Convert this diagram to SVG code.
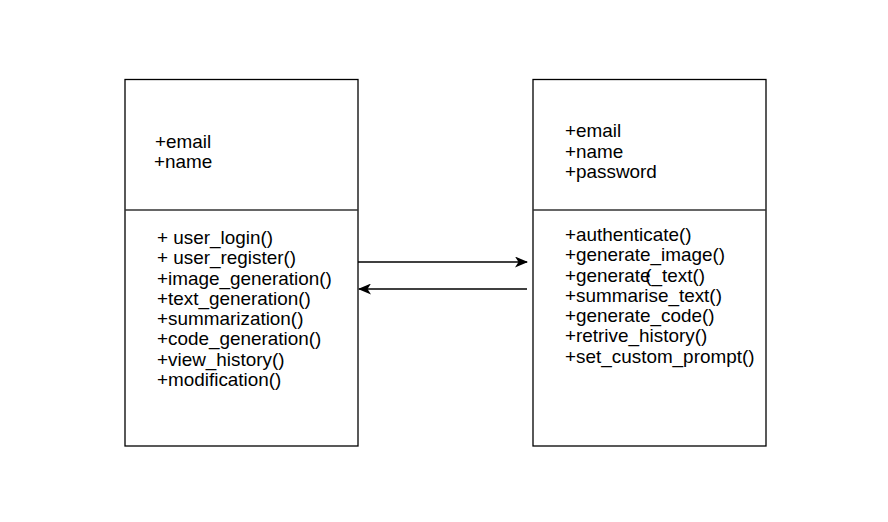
<svg xmlns="http://www.w3.org/2000/svg" width="888" height="522" viewBox="0 0 888 522">
  <style>
    .box { fill: #ffffff; stroke: #000000; stroke-width: 1.3; }
    .div { stroke: #333333; stroke-width: 1.6; }
    .lbl { font-family: "Liberation Sans", Arial, sans-serif; font-size: 17.5px; fill: #000000; }
    .conn { stroke: #000000; stroke-width: 1.3; fill: none; }
  </style>
  <defs>
    <marker id="arrow" viewBox="0 0 13 11" refX="12" refY="5.5" markerWidth="13" markerHeight="11" markerUnits="userSpaceOnUse" orient="auto">
      <path d="M0,0 L13,5.5 L0,11 L3.5,5.5 Z" fill="#000000"/>
    </marker>
  </defs>
  <rect width="888" height="522" fill="#ffffff"/>

  <!-- User class -->
  <g id="user">
    <rect class="box" x="125" y="79.5" width="233" height="366.5"/>
    <line class="div" x1="125" y1="210" x2="358" y2="210"/>
    <g transform="translate(154,1) scale(1.08,1)">
      <text class="lbl" x="1" y="147">+email</text>
      <text class="lbl" x="0" y="167.5">+name</text>
    </g>
    <g transform="translate(157,1) scale(1.08,1)">
      <text class="lbl" x="0" y="243">+ user_login()</text>
      <text class="lbl" x="0" y="263.3">+ user_register()</text>
      <text class="lbl" x="0" y="283.6">+image_generation()</text>
      <text class="lbl" x="0" y="303.9">+text_generation()</text>
      <text class="lbl" x="0" y="324.2">+summarization()</text>
      <text class="lbl" x="0" y="344.5">+code_generation()</text>
      <text class="lbl" x="0" y="364.8">+view_history()</text>
      <text class="lbl" x="0" y="385.1">+modification()</text>
    </g>
  </g>

  <!-- Service class -->
  <g id="service">
    <rect class="box" x="533" y="79.5" width="233" height="366.5"/>
    <line class="div" x1="533" y1="210" x2="766" y2="210"/>
    <g transform="translate(565,1) scale(1.08,1)">
      <text class="lbl" x="0" y="136.5">+email</text>
      <text class="lbl" x="0" y="156.8">+name</text>
      <text class="lbl" x="0" y="177.1">+password</text>
    </g>
    <g transform="translate(565,1) scale(1.08,1)">
      <text class="lbl" x="0" y="240">+authenticate()</text>
      <text class="lbl" x="0" y="260.3">+generate_image()</text>
      <text class="lbl" x="0" y="280.6">+generate<tspan dx="-5">(</tspan>_text()</text>
      <text class="lbl" x="0" y="300.9">+summarise_text()</text>
      <text class="lbl" x="0" y="321.2">+generate_code()</text>
      <text class="lbl" x="0" y="341.5">+retrive_history()</text>
      <text class="lbl" x="0" y="361.8">+set_custom_prompt()</text>
    </g>
  </g>

  <!-- Connectors -->
  <g id="connectors">
    <line class="conn" x1="358" y1="262" x2="527" y2="262" marker-end="url(#arrow)"/>
    <line class="conn" x1="527" y1="289" x2="359" y2="289" marker-end="url(#arrow)" stroke="#333333"/>
  </g>
</svg>
